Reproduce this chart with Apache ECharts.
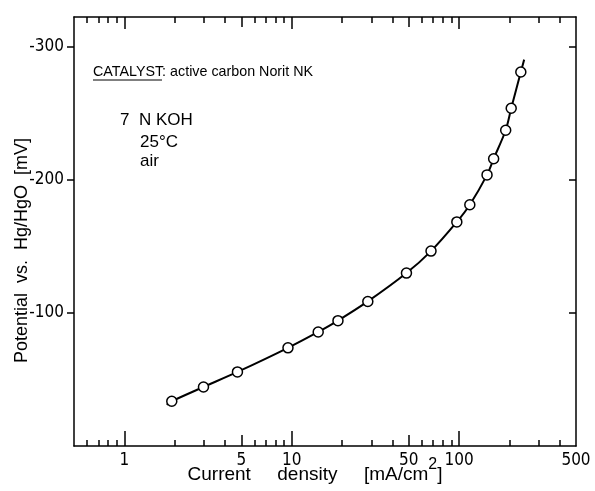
<!DOCTYPE html>
<html>
<head>
<meta charset="utf-8">
<script src="https://cdn.jsdelivr.net/npm/echarts@6/dist/echarts.min.js"></script>
<style>html,body{margin:0;padding:0;background:#fff;}#c{width:595px;height:491px;}</style>
</head>
<body>
<div id="c"></div>
<script>
// ---- data ----
const currentDensity = [1.92, 2.97, 4.74, 9.5, 14.4, 18.9, 28.5, 48.5, 68, 97, 116, 147, 161, 190, 205, 234];
const potential = [-33.6, -44.3, -55.6, -73.7, -85.6, -94.1, -108.5, -129.8, -146.3, -168.2, -181.1, -203.5, -215.6, -237, -253.5, -280.7];
const curveStart = [1.79, -31];
const curveEnd = [245, -290];
const xMajorTicks = [1, 10, 100];
const xMidTicks = [5, 50];
const xMinorTicks = [0.6, 0.7, 0.8, 0.9, 2, 3, 4, 6, 7, 8, 9, 20, 30, 40, 60, 70, 80, 90, 200, 300, 400];
const xLabels = [1, 5, 10, 50, 100, 500];
const yTicks = [-300, -200, -100];

const FONT = "'Liberation Sans Narrow', 'DejaVu Sans Condensed', 'Liberation Sans', sans-serif";
const FONT2 = "'Liberation Sans', 'DejaVu Sans', sans-serif";

const pts = currentDensity.map((x, i) => [x, potential[i]]);
const curve = [curveStart].concat(pts, [curveEnd]);

function xAx(pos, ticks, len, opts) {
  return Object.assign({
    type: 'log', logBase: 10, min: 0.5, max: 500, position: pos,
    axisLine: { show: false, onZero: false },
    axisTick: { show: true, inside: true, length: len, customValues: ticks, lineStyle: { color: '#000', width: 1.5 } },
    axisLabel: { show: false },
    splitLine: { show: false },
    minorTick: { show: false }
  }, opts || {});
}

const chart = echarts.init(document.getElementById('c'), null, { renderer: 'canvas' });
chart.setOption({
  backgroundColor: '#fff',
  animation: false,
  grid: { left: 74, right: 19, top: 17, bottom: 45, containLabel: false, outerBoundsMode: 'none' },
  xAxis: [
    xAx('bottom', xMajorTicks, 15, {
      axisLine: { show: true, onZero: false, lineStyle: { color: '#000', width: 1.5 } },
      axisLabel: { show: true, customValues: xLabels, color: '#000', fontSize: 17, fontFamily: FONT, margin: 6 },
      name: '{t|Current     density     [mA/cm}{sup|2}{t|]}',
      nameLocation: 'middle', nameGap: 11, nameMoveOverlap: false,
      nameTextStyle: { color: '#000', fontSize: 19, fontFamily: FONT2, padding: [0, 20, 0, 0],
        rich: {
          t: { fontSize: 19, fontFamily: FONT2, color: '#000', lineHeight: 36, verticalAlign: 'middle' },
          sup: { fontSize: 16, fontFamily: FONT2, color: '#000', lineHeight: 16, verticalAlign: 'top' }
        } }
    }),
    xAx('bottom', xMidTicks, 11),
    xAx('bottom', xMinorTicks, 6),
    xAx('top', xMajorTicks, 12, { axisLine: { show: true, onZero: false, lineStyle: { color: '#000', width: 1.5 } } }),
    xAx('top', xMidTicks, 10),
    xAx('top', xMinorTicks, 6)
  ],
  yAxis: [
    {
      type: 'value', min: -322, max: 0, inverse: true, position: 'left',
      axisLine: { show: true, onZero: false, lineStyle: { color: '#000', width: 1.5 } },
      axisTick: { show: true, inside: false, length: 7, customValues: yTicks, lineStyle: { color: '#000', width: 1.5 } },
      axisLabel: { show: true, customValues: yTicks, color: '#000', fontSize: 17, fontFamily: FONT, margin: 10 },
      splitLine: { show: false },
      name: 'Potential  vs.  Hg/HgO  [mV]',
      nameLocation: 'middle', nameGap: 43, nameMoveOverlap: false,
      nameTextStyle: { color: '#000', fontSize: 18, fontFamily: FONT2, padding: [0, 38, 0, 0] }
    },
    {
      type: 'value', min: -322, max: 0, inverse: true, position: 'right',
      axisLine: { show: true, onZero: false, lineStyle: { color: '#000', width: 1.5 } },
      axisTick: { show: true, inside: true, length: 7, customValues: yTicks, lineStyle: { color: '#000', width: 1.5 } },
      axisLabel: { show: false },
      splitLine: { show: false }
    }
  ],
  graphic: [
    { type: 'text', x: 93, y: 72, style: { text: 'CATALYST: active carbon Norit NK', font: '14.3px ' + FONT2, fill: '#000', verticalAlign: 'middle' } },
    { type: 'line', shape: { x1: 93, y1: 80, x2: 162, y2: 80 }, style: { stroke: '#000', lineWidth: 1 } },
    { type: 'text', x: 120, y: 120, style: { text: '7  N KOH', font: '17px ' + FONT2, fill: '#000', verticalAlign: 'middle' } },
    { type: 'text', x: 140, y: 142, style: { text: '25°C', font: '17px ' + FONT2, fill: '#000', verticalAlign: 'middle' } },
    { type: 'text', x: 140, y: 161, style: { text: 'air', font: '17px ' + FONT2, fill: '#000', verticalAlign: 'middle' } }
  ],
  series: [
    {
      type: 'line', xAxisIndex: 0, yAxisIndex: 0, data: curve, smooth: 0.3,
      symbol: 'none', lineStyle: { color: '#000', width: 2 }, z: 2
    },
    {
      type: 'scatter', xAxisIndex: 0, yAxisIndex: 0, data: pts,
      symbol: 'circle', symbolSize: 10,
      itemStyle: { color: '#fff', borderColor: '#000', borderWidth: 1.5, opacity: 1 }, z: 3
    }
  ]
});
</script>
</body>
</html>
